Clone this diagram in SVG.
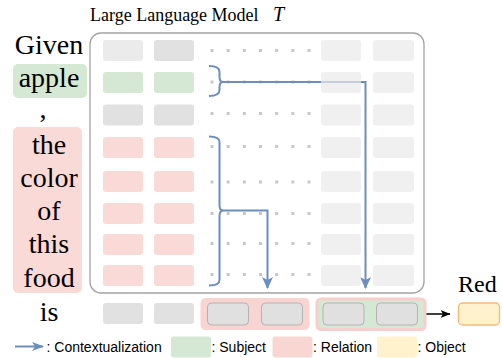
<svg xmlns="http://www.w3.org/2000/svg" width="502" height="358" viewBox="0 0 502 358">
<style>
.serif{font-family:"Liberation Serif","Times New Roman",serif;fill:#000}
.word{font-size:28px;text-anchor:middle}
.sans{font-family:"Liberation Sans",Arial,sans-serif;font-size:14px;fill:#000}
.g1{fill:#ebebeb}
.g2{fill:#e1e1e1}
.grn{fill:#d5e8d4}
.pnk{fill:#f9dad6}
.rc{fill:#e9e9e9;opacity:0.7}
.bc{fill:#e0e0e0;stroke:#b3b3b3;stroke-width:1}
.dots{stroke:#c8c8c8;stroke-width:3;stroke-dasharray:3 13.17;fill:none}
.conn{stroke:#6c8ebf;stroke-width:2;fill:none}
</style>
<defs>
<marker id="ab" markerUnits="userSpaceOnUse" markerWidth="12" markerHeight="12" viewBox="0 0 12 12" refX="11" refY="6" orient="auto">
<path d="M0,0.5 L12,6 L0,11.5 L3,6 Z" fill="#6c8ebf"/>
</marker>
<marker id="abs" markerUnits="userSpaceOnUse" markerWidth="12" markerHeight="10" viewBox="0 0 12 10" refX="11" refY="5" orient="auto">
<path d="M0,0.5 L12,5 L0,9.5 L3,5 Z" fill="#6c8ebf"/>
</marker>
<marker id="ak" markerUnits="userSpaceOnUse" markerWidth="10" markerHeight="9" viewBox="0 0 10 9" refX="9.5" refY="4.5" orient="auto">
<path d="M0,0.5 L10,4.5 L0,8.5 L2.5,4.5 Z" fill="#000"/>
</marker>
</defs>
<rect width="502" height="358" fill="#fff"/>

<g id="title">
<text class="serif" x="90" y="21" font-size="18">Large Language Model</text>
<text class="serif" x="273" y="21" font-size="20" font-style="italic">T</text>
</g>

<g id="words">
<rect x="13" y="64" width="74" height="34" rx="5" class="grn"/>
<rect x="13" y="127" width="69" height="166" rx="5" class="pnk"/>
<text class="serif word" x="49" y="54">Given</text>
<text class="serif word" x="49" y="87">apple</text>
<text class="serif word" x="43" y="118">,</text>
<text class="serif word" x="49" y="154">the</text>
<text class="serif word" x="49" y="187">color</text>
<text class="serif word" x="49" y="220">of</text>
<text class="serif word" x="49" y="253">this</text>
<text class="serif word" x="49" y="287">food</text>
<text class="serif word" x="49" y="321">is</text>
</g>

<g id="model">
<rect x="90" y="33" width="334" height="260" rx="11" fill="none" stroke="#a3a3a3" stroke-width="1.3"/>
<g id="col1">
<rect x="103" y="40" width="40" height="21" rx="3" class="g1"/>
<rect x="103" y="72" width="40" height="21" rx="3" class="grn"/>
<rect x="103" y="104.5" width="40" height="21" rx="3" class="g2"/>
<rect x="103" y="137" width="40" height="21" rx="3" class="pnk"/>
<rect x="103" y="171" width="40" height="21" rx="3" class="pnk"/>
<rect x="103" y="203" width="40" height="21" rx="3" class="pnk"/>
<rect x="103" y="234" width="40" height="21" rx="3" class="pnk"/>
<rect x="103" y="265" width="40" height="21" rx="3" class="pnk"/>
</g>
<g id="col2">
<rect x="154" y="40" width="40" height="21" rx="3" class="g2"/>
<rect x="154" y="72" width="40" height="21" rx="3" class="grn"/>
<rect x="154" y="104.5" width="40" height="21" rx="3" class="g2"/>
<rect x="154" y="137" width="40" height="21" rx="3" class="pnk"/>
<rect x="154" y="171" width="40" height="21" rx="3" class="pnk"/>
<rect x="154" y="203" width="40" height="21" rx="3" class="pnk"/>
<rect x="154" y="234" width="40" height="21" rx="3" class="pnk"/>
<rect x="154" y="265" width="40" height="21" rx="3" class="pnk"/>
</g>
<g id="dots">
<line class="dots" x1="210.5" y1="50.5" x2="311" y2="50.5"/>
<line class="dots" x1="210.5" y1="82" x2="311" y2="82"/>
<line class="dots" x1="210.5" y1="113.5" x2="311" y2="113.5"/>
<line class="dots" x1="210.5" y1="146.5" x2="311" y2="146.5"/>
<line class="dots" x1="210.5" y1="182" x2="311" y2="182"/>
<line class="dots" x1="210.5" y1="213.5" x2="311" y2="213.5"/>
<line class="dots" x1="210.5" y1="243.5" x2="311" y2="243.5"/>
<line class="dots" x1="210.5" y1="274.5" x2="311" y2="274.5"/>
</g>
<g id="col4">
<rect x="373" y="40" width="41" height="21" rx="3" fill="#f0f0f0"/>
<rect x="373" y="72" width="41" height="21" rx="3" fill="#f0f0f0"/>
<rect x="373" y="104.5" width="41" height="21" rx="3" fill="#f0f0f0"/>
<rect x="373" y="137" width="41" height="21" rx="3" fill="#f0f0f0"/>
<rect x="373" y="171" width="41" height="21" rx="3" fill="#f0f0f0"/>
<rect x="373" y="203" width="41" height="21" rx="3" fill="#f0f0f0"/>
<rect x="373" y="234" width="41" height="21" rx="3" fill="#f0f0f0"/>
<rect x="373" y="265" width="41" height="21" rx="3" fill="#f0f0f0"/>
</g>
</g>

<g id="connectors">
<path class="conn" d="M209,66 Q219.5,66 219.5,72 L219.5,77 Q219.5,82 223,82 Q219.5,82 219.5,87 L219.5,90 Q219.5,96 209,96"/>
<path class="conn" d="M222,82 L365.5,82 L365.5,288" marker-end="url(#ab)"/>
<path class="conn" d="M209,136.5 Q219.5,136.5 219.5,142 L219.5,205 Q219.5,210.5 223,210.5 Q219.5,210.5 219.5,216 L219.5,280 Q219.5,285.5 209,285.5"/>
<path class="conn" d="M222,210.5 L267.5,210.5 L267.5,288" marker-end="url(#ab)"/>
<line x1="417" y1="314" x2="450" y2="314" stroke="#000" stroke-width="1.3" marker-end="url(#ak)"/>
</g>

<g id="col3">
<rect x="321" y="40" width="40" height="21" rx="3" class="rc"/>
<rect x="321" y="72" width="40" height="21" rx="3" class="rc"/>
<rect x="321" y="104.5" width="40" height="21" rx="3" class="rc"/>
<rect x="321" y="137" width="40" height="21" rx="3" class="rc"/>
<rect x="321" y="171" width="40" height="21" rx="3" class="rc"/>
<rect x="321" y="203" width="40" height="21" rx="3" class="rc"/>
<rect x="321" y="234" width="40" height="21" rx="3" class="rc"/>
<rect x="321" y="265" width="40" height="21" rx="3" class="rc"/>
</g>

<g id="output-row">
<rect x="103" y="303" width="40" height="21" rx="3" class="g2"/>
<rect x="154" y="303" width="40" height="21" rx="3" class="g2"/>
</g>

<g id="relation-group">
<rect x="200.5" y="298" width="109" height="32" rx="5" fill="#f8d5d1"/>
<rect x="207.5" y="303" width="41" height="22" rx="4" class="bc"/>
<rect x="261.5" y="303" width="41" height="22" rx="4" class="bc"/>
</g>

<g id="subject-group">
<rect x="317" y="299" width="108" height="30.5" rx="4" fill="#d5e8d4" stroke="#f8cecc" stroke-width="3"/>
<rect x="323" y="303" width="41" height="22" rx="4" class="bc"/>
<rect x="376.5" y="303" width="41" height="22" rx="4" class="bc"/>
</g>

<g id="object">
<text class="serif" x="458" y="292" font-size="24">Red</text>
<rect x="458.5" y="303" width="41" height="22" rx="4" fill="#fff2cc" stroke="#f7b877" stroke-width="1.3"/>
</g>

<g id="legend">
<line x1="15" y1="346.5" x2="43" y2="346.5" stroke="#6c8ebf" stroke-width="2" marker-end="url(#abs)"/>
<text class="sans" x="46.5" y="351.5">: Contextualization</text>
<rect x="171" y="336.5" width="40" height="21" rx="3" fill="#d5e8d4"/>
<text class="sans" x="211.5" y="351.5">: Subject</text>
<rect x="272.5" y="336.5" width="40" height="21" rx="3" fill="#f8d7d3"/>
<text class="sans" x="313" y="351.5">: Relation</text>
<rect x="377" y="336.5" width="40" height="21" rx="3" fill="#fff2cc"/>
<text class="sans" x="417.5" y="351.5">: Object</text>
</g>
</svg>
